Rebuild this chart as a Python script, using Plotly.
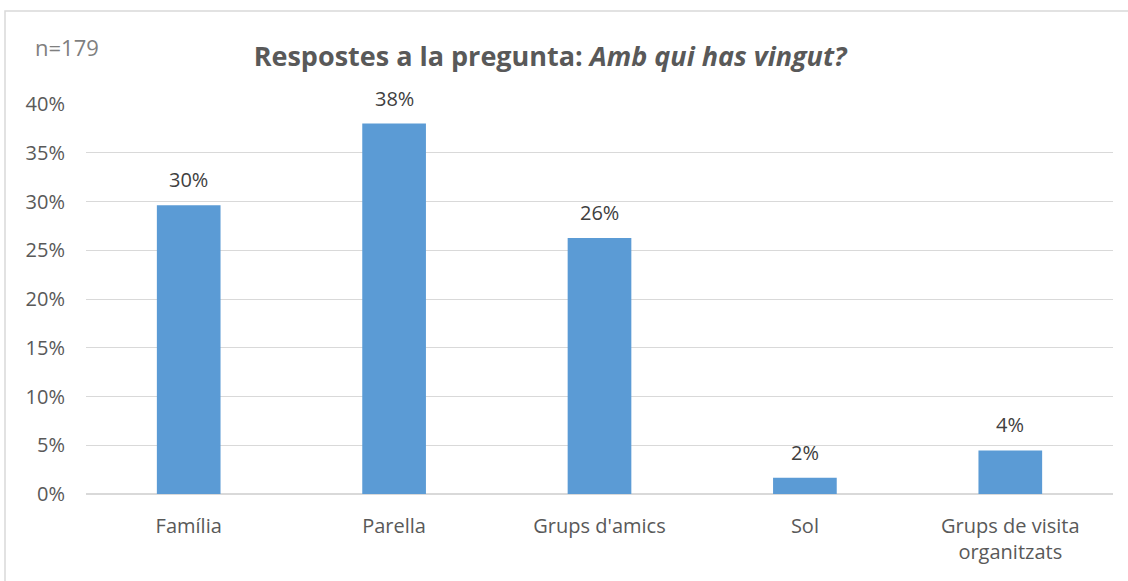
import plotly.graph_objects as go

categories = ["Família", "Parella", "Grups d'amics", "Sol", "Grups de visita<br>organitzats"]
counts = [53, 68, 47, 3, 8]
n_total = 179
values = [c / n_total for c in counts]
labels = [f"{round(v * 100):.0f}%" for v in values]
y_ticks = [0, 0.05, 0.10, 0.15, 0.20, 0.25, 0.30, 0.35, 0.40]
y_tick_text = ["0%", "5%", "10%", "15%", "20%", "25%", "30%", "35%", "40%"]

FONT = "Open Sans, Segoe UI, sans-serif"
W, H = 1128, 581
L, R, T, B = 86, 15, 104, 87
pw, ph = W - L - R, H - T - B

def px_x(x):
    return (x - L) / pw

def px_y(y):
    return (H - B - y) / ph

fig = go.Figure(go.Bar(
    x=categories, y=values,
    marker=dict(color="#5b9bd5", line=dict(width=0)),
    width=0.31, cliponaxis=False, hoverinfo="skip",
))

annotations = [dict(
    x=c, y=v, text=t, xref="x", yref="y", showarrow=False,
    yanchor="bottom", yshift=10,
    font=dict(family=FONT, size=20, color="#404040"),
) for c, v, t in zip(categories, values, labels)]

annotations.append(dict(
    text=f"n={n_total}", xref="paper", yref="paper",
    x=px_x(33), y=px_y(47), xanchor="left", yanchor="middle",
    showarrow=False, font=dict(family=FONT, size=22, color="#7f7f7f"),
))

fig.update_layout(
    width=W, height=H,
    margin=dict(l=L, r=R, t=T, b=B),
    paper_bgcolor="white", plot_bgcolor="white",
    showlegend=False,
    font=dict(family=FONT, color="#595959", size=20),
    title=dict(
        text="<b>Respostes a la pregunta: <i>Amb qui has vingut?</i></b>",
        x=px_x(550), xanchor="center", xref="paper",
        y=1 - 57 / H, yanchor="middle",
        font=dict(family=FONT, size=27, color="#595959"),
    ),
    xaxis=dict(showgrid=False, showline=False, ticks="", ticklabelstandoff=18,
               tickfont=dict(size=20, color="#595959")),
    yaxis=dict(
        range=[0, 0.40], tickvals=y_ticks, ticktext=y_tick_text,
        showgrid=True, gridcolor="#d9d9d9", gridwidth=1,
        zeroline=True, zerolinecolor="#d9d9d9", zerolinewidth=1.5,
        showline=False, ticks="", ticklabelstandoff=20,
        tickfont=dict(size=20, color="#595959"),
    ),
    shapes=[dict(
        type="rect", xref="paper", yref="paper",
        x0=px_x(5), x1=px_x(1140), y0=px_y(600), y1=px_y(11),
        line=dict(color="#d9d9d9", width=1.5), fillcolor="rgba(0,0,0,0)", layer="below",
    )],
    annotations=annotations,
)

fig.write_html("out.html", config={"displayModeBar": False},
               post_script="document.body.style.margin='0';document.body.style.overflow='hidden';")
